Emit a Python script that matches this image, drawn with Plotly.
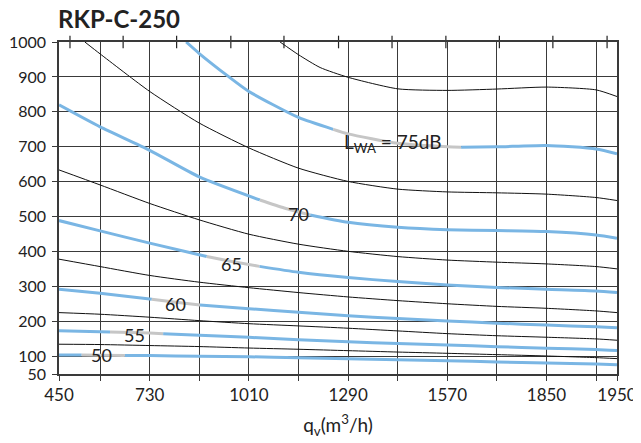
import plotly.graph_objects as go

# ---------------- data ----------------
x_grid = [474, 590, 730, 870, 1010, 1150, 1290, 1430, 1570, 1710, 1850, 1990, 2049]
x_tick_text = ["450", "", "730", "", "1010", "", "1290", "", "1570", "", "1850", "", "1950"]
y_ticks = [50, 100, 200, 300, 400, 500, 600, 700, 800, 900, 1000]
top_ticks = [505, 655, 806, 959, 1109, 1263, 1414, 1566, 1717, 1868, 2021]

# sound level curves (blue), with the index range that lies under the label (grey)
b50_x = [474, 538, 590, 660, 730, 870, 1010, 1150, 1290, 1430, 1570, 1710, 1850, 1990, 2049]
b50_y = [104.5, 104.2, 103.6, 103.2, 102.7, 100.8, 99.3, 96.8, 93.9, 91.1, 88.2, 84.5, 81.6, 78.7, 76.8]
b55_x = [474, 590, 618, 730, 768, 870, 1010, 1150, 1290, 1430, 1570, 1710, 1850, 1990, 2049]
b55_y = [174, 171, 170, 167, 165.5, 161, 155, 148, 142, 137, 133, 128, 124, 120, 117]
b60_x = [474, 590, 736, 804, 872, 1010, 1150, 1290, 1430, 1570, 1710, 1850, 1990, 2049]
b60_y = [292.7, 281, 264, 255.5, 247.5, 237, 227, 217, 208.5, 202, 195.5, 190, 185, 182]
b65_x = [474, 590, 730, 891, 962, 1040, 1150, 1290, 1430, 1570, 1710, 1850, 1990, 2049]
b65_y = [489, 459.6, 424.4, 386, 372, 358, 341, 326, 314.5, 305, 297.8, 292.6, 287.8, 283]
b70_x = [474, 590, 730, 870, 1041, 1110, 1183, 1290, 1430, 1570, 1710, 1850, 1990, 2049]
b70_y = [820, 757, 690, 614, 548, 525, 505, 484, 470, 463, 460.5, 457.6, 448, 438.7]
b75_x = [833, 870, 952, 1010, 1150, 1248, 1290, 1430, 1570, 1609, 1710, 1850, 1990, 2049]
b75_y = [1000, 967, 901.5, 858.5, 784, 750, 737, 710, 700, 699, 700, 704, 694, 680]

sound_curves = [
    (b50_x, b50_y, 1, 3),
    (b55_x, b55_y, 2, 4),
    (b60_x, b60_y, 2, 4),
    (b65_x, b65_y, 3, 5),
    (b70_x, b70_y, 4, 6),
    (b75_x, b75_y, 5, 9),
]

# thin black curves
k1_x = [547, 590, 730, 870, 1010, 1150, 1290, 1430, 1570, 1710, 1850, 1990, 2049]
k1_y = [1000, 966, 858.5, 768, 697, 639, 601, 579, 571, 568.4, 564.7, 555, 546.4]
k2_x = [1098, 1150, 1211, 1290, 1430, 1570, 1710, 1850, 1990, 2049]
k2_y = [1000, 963.6, 927, 899, 866, 861.5, 865.4, 871, 863, 844]
k3_y = [634, 591, 538, 491, 450, 421.5, 401, 386, 376, 370, 365, 357.4, 350.8]
k4_y = [378.6, 357.4, 332, 312.7, 297, 283, 270.5, 260, 251, 243.5, 238, 230.5, 225.7]
k5_y = [225.7, 221, 212.5, 202.7, 194, 187.6, 181, 173.3, 165.5, 159.5, 155.2, 150.4, 146.6]
k6_y = [135.2, 134.3, 131.4, 128.5, 124.3, 120.8, 116.8, 112.8, 109.2, 105.4, 101.6, 96.8, 94]

black_curves = [(k1_x, k1_y), (k2_x, k2_y), (x_grid, k3_y), (x_grid, k4_y),
                (x_grid, k5_y), (x_grid, k6_y)]

# curve labels
label_text = ["50", "55", "60", "65", "70"]
label_x = [595, 687, 804, 962, 1150]
label_y = [104, 162, 251, 365, 508]
main_label = "L<sub>WA</sub> = 75dB"
main_label_x = 1272
main_label_y = 712

# ---------------- styling ----------------
BLUE = "#7ab6e4"
GREY = "#c6c6c6"
FONT = "Lato"
TXT = "#222222"

fig = go.Figure()

for xs, ys in black_curves:
    fig.add_trace(go.Scatter(x=xs, y=ys, mode="lines",
                             line=dict(color="#111111", width=1, shape="spline", smoothing=0.6),
                             hoverinfo="skip", showlegend=False))

for xs, ys, i0, i1 in sound_curves:
    segs = [(0, i0, BLUE), (i0, i1, GREY), (i1, len(xs) - 1, BLUE)]
    for a, b, col in segs:
        fig.add_trace(go.Scatter(x=xs[a:b + 1], y=ys[a:b + 1], mode="lines",
                                 line=dict(color=col, width=3, shape="spline", smoothing=0.6),
                                 hoverinfo="skip", showlegend=False))

# small ticks crossing the top border
fig.add_trace(go.Scatter(x=top_ticks, y=[1000] * len(top_ticks), mode="markers",
                         marker=dict(symbol="line-ns", size=9, line=dict(color="#222222", width=1.2)),
                         cliponaxis=False, hoverinfo="skip", showlegend=False))

for t, lx, ly in zip(label_text, label_x, label_y):
    fig.add_annotation(x=lx, y=ly, text=t, showarrow=False, xanchor="center", yanchor="middle",
                       font=dict(family=FONT, size=18, color=TXT))
fig.add_annotation(x=main_label_x, y=main_label_y, text=main_label, showarrow=False,
                   xanchor="left", yanchor="middle",
                   font=dict(family=FONT, size=19, color=TXT))

# title
fig.add_annotation(x=0, y=1, xref="paper", yref="paper", xanchor="left", yanchor="bottom",
                   xshift=-3, yshift=7, text="<b>RKP-C-250</b>", showarrow=False,
                   font=dict(family=FONT, size=24, color=TXT))

# the page body adds an 8px margin, so the figure is 8px smaller than the window
fig.update_layout(
    template="none",
    width=633, height=435,
    margin=dict(l=51, r=24, t=34, b=69, autoexpand=False),
    paper_bgcolor="white", plot_bgcolor="white",
    showlegend=False,
    xaxis=dict(range=[x_grid[0], x_grid[-1]], tickmode="array", tickvals=x_grid, ticktext=x_tick_text,
               automargin=False,
               showgrid=True, gridcolor="#3a3a3a", gridwidth=1.2, zeroline=False,
               showline=True, linecolor="#3a3a3a", linewidth=1.5, mirror=True,
               ticks="outside", ticklen=5, tickcolor="#3a3a3a", tickwidth=1.2,
               ticklabelstandoff=0,
               tickfont=dict(family=FONT, size=17, color=TXT),
               title=dict(text="q<sub>v</sub>(m<sup>3</sup>/h)", standoff=15,
                          font=dict(family=FONT, size=19, color=TXT))),
    yaxis=dict(range=[50, 1000], tickmode="array", tickvals=y_ticks,
               ticktext=[str(v) for v in y_ticks],
               automargin=False,
               showgrid=True, gridcolor="#3a3a3a", gridwidth=1.2, zeroline=False,
               showline=True, linecolor="#3a3a3a", linewidth=1.5, mirror=True,
               ticks="outside", ticklen=5, tickcolor="#3a3a3a", tickwidth=1.2,
               ticklabelstandoff=3,
               tickfont=dict(family=FONT, size=16, color=TXT)),
)

fig.write_html("out.html")
